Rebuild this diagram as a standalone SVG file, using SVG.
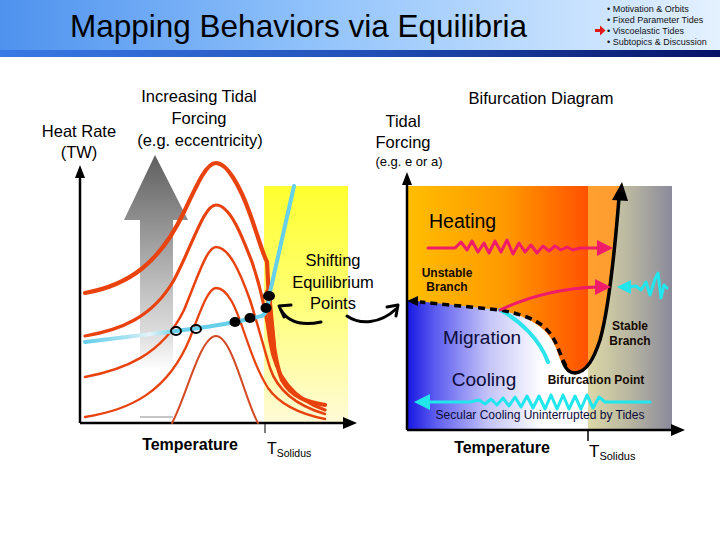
<svg xmlns="http://www.w3.org/2000/svg" width="720" height="540" viewBox="0 0 720 540">
<defs>
<linearGradient id="hdr" x1="0" y1="0" x2="1" y2="0">
<stop offset="0" stop-color="#4e92ee"/><stop offset="0.45" stop-color="#93c4fb"/><stop offset="1" stop-color="#e4f1ff"/>
</linearGradient>
<linearGradient id="bar" x1="0" y1="0" x2="1" y2="0">
<stop offset="0" stop-color="#3a7ae6"/><stop offset="0.5" stop-color="#2350b8"/><stop offset="1" stop-color="#061266"/>
</linearGradient>
<linearGradient id="yel" x1="0" y1="186" x2="0" y2="423" gradientUnits="userSpaceOnUse">
<stop offset="0" stop-color="#ffff30"/><stop offset="0.45" stop-color="#ffff70"/><stop offset="1" stop-color="#fffbd8"/>
</linearGradient>
<linearGradient id="gry" x1="0" y1="155" x2="0" y2="370" gradientUnits="userSpaceOnUse">
<stop offset="0" stop-color="#5e5e5e"/><stop offset="0.3" stop-color="#8e8e8e"/><stop offset="0.6" stop-color="#bdbdbd"/><stop offset="0.85" stop-color="#e0e0e0"/><stop offset="1" stop-color="#ffffff"/>
</linearGradient>
<linearGradient id="cyl" x1="85" y1="0" x2="300" y2="0" gradientUnits="userSpaceOnUse">
<stop offset="0" stop-color="#66cfea"/><stop offset="0.2" stop-color="#a8e2f2"/><stop offset="0.3" stop-color="#e6f4f8"/><stop offset="0.42" stop-color="#66cfea"/><stop offset="1" stop-color="#66cfea"/>
</linearGradient>
<linearGradient id="blu" x1="407" y1="0" x2="588" y2="0" gradientUnits="userSpaceOnUse">
<stop offset="0" stop-color="#1616e2"/><stop offset="0.15" stop-color="#5a5af0"/><stop offset="0.45" stop-color="#c4c4f8"/><stop offset="0.75" stop-color="#ffffff"/><stop offset="1" stop-color="#ffffff"/>
</linearGradient>
<linearGradient id="kha" x1="588" y1="0" x2="672" y2="0" gradientUnits="userSpaceOnUse">
<stop offset="0" stop-color="#dcd8a8"/><stop offset="0.5" stop-color="#b8b6a0"/><stop offset="1" stop-color="#8a8a9c"/>
</linearGradient>
<linearGradient id="org" x1="407" y1="0" x2="622" y2="0" gradientUnits="userSpaceOnUse">
<stop offset="0" stop-color="#ffbe00"/><stop offset="0.45" stop-color="#ff9a00"/><stop offset="0.84" stop-color="#ff5200"/><stop offset="0.84" stop-color="#ffa030"/><stop offset="1" stop-color="#ff9c30"/>
</linearGradient>
</defs>
<style>
text{font-family:"Liberation Sans",Arial,sans-serif;fill:#000}
.lbl{font-size:16.5px}
.red{fill:none;stroke:#e8420e;stroke-linecap:round;stroke-linejoin:round}
.thin{fill:none;stroke:#d44a24;stroke-width:2;stroke-linecap:round}
.ax{stroke:#000;stroke-width:2.5;fill:none}
.bb{font-size:12px;font-weight:bold;fill:#140a00}
.nv{fill:#0c0c3a}
.menu{font-size:9px;fill:#111}
.conn{fill:none;stroke:#000;stroke-width:3;stroke-linecap:round;stroke-linejoin:round}
</style>

<g id="header">
<rect x="0" y="0" width="720" height="50" fill="url(#hdr)"/>
<rect x="0" y="50" width="720" height="7" fill="url(#bar)"/>
<text x="70" y="37" font-size="31.5px" fill="#0a0a1a">Mapping Behaviors via Equilibria</text>
<text class="menu" x="607" y="12">• Motivation &amp; Orbits</text>
<text class="menu" x="607" y="23">• Fixed Parameter Tides</text>
<text class="menu" x="607" y="34">• Viscoelastic Tides</text>
<text class="menu" x="607" y="45">• Subtopics &amp; Discussion</text>
<path d="M595,29 h5 v-3.5 l5.5,5 -5.5,5 v-3.5 h-5 z" fill="#e21818"/>
</g>

<g id="left-plot">
<rect x="264" y="186" width="84" height="237" fill="url(#yel)"/>
<path d="M155,155 L188,220 L173,220 L173,370 L140,370 L140,220 L124,220 Z" fill="url(#gry)"/>
<line x1="140" y1="417" x2="173" y2="417" stroke="#8a8a8a" stroke-width="1"/>
<line class="ax" x1="80" y1="423" x2="80" y2="175"/>
<path d="M75,178 L80,165 L85,178 Z" fill="#000"/>
<line class="ax" x1="80" y1="423" x2="346" y2="423"/>
<path d="M343,417 L357,423 L343,429 Z" fill="#000"/>
<line x1="265" y1="423" x2="265" y2="433" stroke="#000" stroke-width="1"/>
</g>

<g id="curves">
<path class="thin" d="M172,423 C186,398 200,336 216,336 C232,336 245,400 258,423"/>
<path class="red" stroke-width="2.3" d="M85,417 C130,410 168,392 190,338 C200,312 208,288 216,288 C228,288 236,308 244,332 C252,355 258,372 268,388 C280,405 300,414 325,419"/>
<path class="red" stroke-width="2.5" d="M85,377 C122,370 162,356 184,310 C198,276 207,247 216,247 C229,247 240,272 250,300 C258,325 263,345 270,368 C278,392 298,406 325,414"/>
<path class="red" stroke-width="3.2" d="M85,336 C120,330 152,318 174,280 C193,244 204,205 216,205 C230,205 242,236 252,262 C260,285 266,312 270,342 C276,380 296,400 325,410"/>
<path class="red" stroke-width="4.2" d="M85,293 C130,285 160,262 184,212 C199,180 207,163 216,163 C227,163 240,186 250,214 C258,236 262,252 267,262 L269,300 C272,330 274,360 282,380 C292,398 308,402 325,405"/>
<path fill="none" stroke="#e8420e" stroke-width="6" stroke-linecap="round" d="M268,292 L273,345"/>
</g>

<g id="cyan-left">
<path fill="none" stroke="url(#cyl)" stroke-width="4" stroke-linecap="round" d="M294,186 L270,292 C268,304 268,312 262,316 L235,322 C220,325 200,328 176,331 C150,334 120,338 85,342"/>
</g>

<g id="dots">
<ellipse cx="269" cy="296" rx="6" ry="5" fill="#000"/>
<ellipse cx="266" cy="308" rx="5.5" ry="5" fill="#000"/>
<ellipse cx="250" cy="318" rx="5.5" ry="5" fill="#000"/>
<ellipse cx="235" cy="322" rx="5.5" ry="5" fill="#000"/>
<ellipse cx="196" cy="329" rx="5" ry="4" fill="none" stroke="#000" stroke-width="2"/>
<ellipse cx="176" cy="331" rx="5" ry="4" fill="none" stroke="#000" stroke-width="2"/>
</g>

<g id="left-labels">
<text class="lbl" x="79" y="137" text-anchor="middle" font-size="17px">Heat Rate</text>
<text class="lbl" x="79" y="158" text-anchor="middle" font-size="17px">(TW)</text>
<text class="lbl" x="199" y="102" text-anchor="middle">Increasing Tidal</text>
<text class="lbl" x="199" y="124" text-anchor="middle">Forcing</text>
<text class="lbl" x="200" y="146" text-anchor="middle">(e.g. eccentricity)</text>
<text class="lbl" x="333" y="266" text-anchor="middle">Shifting</text>
<text class="lbl" x="333" y="288" text-anchor="middle">Equilibrium</text>
<text class="lbl" x="333" y="309" text-anchor="middle">Points</text>
<text x="190" y="450" text-anchor="middle" font-size="16px" font-weight="bold">Temperature</text>
<text x="267" y="454" font-size="16px">T<tspan font-size="10.5px" dy="3">Solidus</tspan></text>
</g>

<g id="connectors">
<path class="conn" d="M321,322 C302,326 288,322 281,310"/>
<path class="conn" d="M291,305 L279,306 L284,317"/>
<path class="conn" d="M347,316 C360,325 380,324 396,309"/>
<path class="conn" d="M387,307 L398,305 L396,316"/>
</g>

<g id="right-plot">
<rect x="407" y="186" width="181" height="244" fill="url(#blu)"/>
<rect x="588" y="186" width="84" height="244" fill="url(#kha)"/>
<path d="M407,186 L621,186 C616,245 609,305 600,340 C594,360 586,372 573,373 C564,372 561,362 556,348 C550,333 537,318 500,310 L407,300 Z" fill="url(#org)"/>
<path d="M500,310 C520,320 540,340 548,362" fill="none" stroke="#2ee4ec" stroke-width="4" stroke-linecap="round"/>
<path d="M566,366 C561,358 558,345 552,336 C544,324 532,316 500,310 L420,302" fill="none" stroke="#000" stroke-width="3.5" stroke-dasharray="7,5"/>
<path d="M418,296 L407,301 L418,306 Z" fill="#000"/>
<path d="M563,362 C566,370 570,373 575,373 C587,372 594,358 600,340 C608,312 614,260 619,198" fill="none" stroke="#000" stroke-width="3.5" stroke-linecap="round"/>
<path d="M612,200 L622,182 L628,201 Z" fill="#000"/>
<line class="ax" x1="407" y1="430" x2="407" y2="182"/>
<path d="M402,185 L407,172 L412,185 Z" fill="#000"/>
<line class="ax" x1="407" y1="430" x2="674" y2="430"/>
<path d="M671,424 L685,430 L671,436 Z" fill="#000"/>
<line x1="588" y1="430" x2="588" y2="441" stroke="#000" stroke-width="1.5"/>
</g>

<g id="arrows-right">
<path d="M428,248 L455,248 L461,242 L467,250 L472,241 L478,252 L484,243 L489,253 L495,241 L501,252 L507,240 L513,254 L519,243 L525,252 L531,245 L537,253 L543,246 L549,251 L555,246 L561,250 L567,247 L573,250 L580,248 L600,248" fill="none" stroke="#f01c6a" stroke-width="3" stroke-linejoin="round" stroke-linecap="round"/>
<path d="M597,240 L613,248 L597,256 Z" fill="#f01c6a"/>
<path d="M500,310 C530,296 565,288 597,287" fill="none" stroke="#f01c6a" stroke-width="3" stroke-linecap="round"/>
<path d="M595,279 L611,287 L595,295 Z" fill="#f01c6a"/>
<path d="M628,287 L636,286 L641,290 L646,282 L650,295 L655,279 L658,273 L661,298 L664,285 L667,288" fill="none" stroke="#22e6ee" stroke-width="3" stroke-linejoin="round" stroke-linecap="round"/>
<path d="M631,280 L617,287 L631,294 Z" fill="#22e6ee"/>
<path d="M650,402 L605,402 L599,397 L593,408 L587,395 L581,409 L575,396 L569,409 L563,395 L557,409 L551,395 L545,409 L539,396 L533,408 L527,396 L521,407 L515,397 L509,406 L503,398 L497,405 L491,399 L485,404 L479,400 L470,402 L428,402" fill="none" stroke="#22e6ee" stroke-width="3" stroke-linejoin="round" stroke-linecap="round"/>
<path d="M430,394 L414,402 L430,410 Z" fill="#22e6ee"/>
</g>

<g id="right-labels">
<text class="lbl" x="541" y="104" text-anchor="middle">Bifurcation Diagram</text>
<text class="lbl" x="403" y="127" text-anchor="middle">Tidal</text>
<text class="lbl" x="403" y="148" text-anchor="middle">Forcing</text>
<text x="409" y="166" text-anchor="middle" font-size="13px">(e.g. e or a)</text>
<text x="429" y="228" font-size="19.5px" fill="#120800">Heating</text>
<text class="bb" x="447" y="277" text-anchor="middle">Unstable</text>
<text class="bb" x="447" y="291" text-anchor="middle">Branch</text>
<text class="bb" x="630" y="330" text-anchor="middle">Stable</text>
<text class="bb" x="630" y="345" text-anchor="middle">Branch</text>
<text class="bb" x="596" y="384" text-anchor="middle" font-size="11px">Bifurcation Point</text>
<text class="nv" x="482" y="344" text-anchor="middle" font-size="19px">Migration</text>
<text class="nv" x="484" y="386" text-anchor="middle" font-size="19px">Cooling</text>
<text class="nv" x="540" y="419" text-anchor="middle" font-size="12px">Secular Cooling Uninterrupted by Tides</text>
<text x="502" y="453" text-anchor="middle" font-size="16px" font-weight="bold">Temperature</text>
<text x="589" y="457" font-size="17px">T<tspan font-size="11px" dy="3">Solidus</tspan></text>
</g>
</svg>
